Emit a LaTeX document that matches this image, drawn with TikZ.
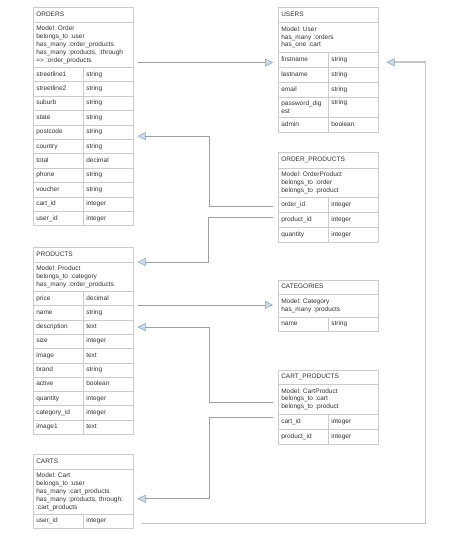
\documentclass[tikz,border=0pt]{standalone}
\usepackage{fontspec}
\usepackage{tikz}
\usetikzlibrary{arrows.meta}
\newfontfamily\tabfont{Liberation Sans}
\frenchspacing
\definecolor{cellgray}{HTML}{CCCCCC}
\definecolor{linegray}{HTML}{9E9E9E}
\definecolor{widegray}{HTML}{C6C6C6}
\definecolor{tipblue}{HTML}{C9DCEC}
\definecolor{tipedge}{HTML}{8FA3B8}
\definecolor{textgray}{HTML}{333333}
\tikzstyle{cell} = [draw=cellgray, line width=0.6pt, fill=white, anchor=north west, inner xsep=3pt, inner ysep=0pt, align=left, text=textgray, font={\tabfont\fontsize{6.5}{7.8}\selectfont}]
\tikzstyle{titlecell} = [cell, text width=94pt, minimum height=15pt, text height=4.7pt, text depth=1.6pt]
\tikzstyle{infocell} = [cell, text width=94pt]
\tikzstyle{fieldcell} = [cell, text width=44pt, minimum height=14.4pt, text height=4.7pt, text depth=1.6pt]
\tikzstyle{fk} = [draw=linegray, line width=0.7pt, -{Triangle[length=8pt,width=8pt,fill=tipblue,color=tipedge,line width=0.5pt]}]
\tikzstyle{fkwide} = [fk, draw=widegray, line width=1.6pt]

\begin{document}
\begin{tikzpicture}[x=1pt,y=-1pt]
\useasboundingbox (0,0) rectangle (459,553);

%table ORDERS
\node[titlecell] (orders) at (33,7) {ORDERS};
\node[infocell, minimum height=45pt] (orders-info) at (33,22) {Model: Order\\belongs\_to :user\\has\_many :order\_products\\has\_many :products, :through\\=> :order\_products};
\foreach \f/\t [count=\i from 0] in {streetline1/string, streetline2/string, suburb/string, state/string, postcode/string, country/string, total/decimal, phone/string, voucher/string, cart\_id/integer, user\_id/integer} {
  \node[fieldcell] (orders-f\i) at (33,{67+14.4*\i}) {\f};
  \node[fieldcell] (orders-t\i) at (83,{67+14.4*\i}) {\t};
}

%table USERS
\node[titlecell] (users) at (278,7) {USERS};
\node[infocell, minimum height=30pt] (users-info) at (278,22) {Model: User\\has\_many :orders\\has\_one :cart};
\node[fieldcell, minimum height=15pt] (users-f0) at (278,52) {firstname};
\node[fieldcell, minimum height=15pt] (users-t0) at (328,52) {string};
\node[fieldcell, minimum height=15pt] (users-f1) at (278,67) {lastname};
\node[fieldcell, minimum height=15pt] (users-t1) at (328,67) {string};
\node[fieldcell, minimum height=15pt] (users-f2) at (278,82) {email};
\node[fieldcell, minimum height=15pt] (users-t2) at (328,82) {string};
\node[cell, text width=44pt, minimum height=20pt] (users-f3) at (278,97) {password\_dig\\est};
\node[fieldcell, minimum height=20pt, text depth=9.4pt] (users-t3) at (328,97) {string};
\node[fieldcell, minimum height=15pt] (users-f4) at (278,117) {admin};
\node[fieldcell, minimum height=15pt] (users-t4) at (328,117) {boolean};

%table ORDER_PRODUCTS
\node[titlecell, minimum height=16pt] (op) at (278,152) {ORDER\_PRODUCTS};
\node[infocell, minimum height=29pt] (op-info) at (278,168) {Model: OrderProduct\\belongs\_to :order\\belongs\_to :product};
\foreach \f/\t [count=\i from 0] in {order\_id/integer, product\_id/integer, quantity/integer} {
  \node[fieldcell, minimum height=15pt] (op-f\i) at (278,{197+15*\i}) {\f};
  \node[fieldcell, minimum height=15pt] (op-t\i) at (328,{197+15*\i}) {\t};
}

%table PRODUCTS
\node[titlecell] (products) at (33,247) {PRODUCTS};
\node[infocell, minimum height=29pt] (products-info) at (33,262) {Model: Product\\belongs\_to :category\\has\_many :order\_products};
\foreach \f/\t [count=\i from 0] in {price/decimal, name/string, description/text, size/integer, image/text, brand/string, active/boolean, quantity/integer, category\_id/integer, image1/text} {
  \node[fieldcell, minimum height=14.3pt] (products-f\i) at (33,{291+14.3*\i}) {\f};
  \node[fieldcell, minimum height=14.3pt] (products-t\i) at (83,{291+14.3*\i}) {\t};
}

%table CATEGORIES
\node[titlecell, minimum height=14pt] (cat) at (278,280) {CATEGORIES};
\node[infocell, minimum height=23pt] (cat-info) at (278,294) {Model: Category\\has\_many :products};
\node[fieldcell, minimum height=14pt] (cat-f0) at (278,317) {name};
\node[fieldcell, minimum height=14pt] (cat-t0) at (328,317) {string};

%table CART_PRODUCTS
\node[titlecell, minimum height=14pt] (cp) at (278,370) {CART\_PRODUCTS};
\node[infocell, minimum height=30pt] (cp-info) at (278,384) {Model: CartProduct\\belongs\_to :cart\\belongs\_to :product};
\foreach \f/\t [count=\i from 0] in {cart\_id/integer, product\_id/integer} {
  \node[fieldcell, minimum height=15pt] (cp-f\i) at (278,{414+15*\i}) {\f};
  \node[fieldcell, minimum height=15pt] (cp-t\i) at (328,{414+15*\i}) {\t};
}

%table CARTS
\node[titlecell] (carts) at (33,454) {CARTS};
\node[infocell, minimum height=45pt] (carts-info) at (33,469) {Model: Cart\\belongs\_to :user\\has\_many :cart\_products\\has\_many :products, through:\\:cart\_products};
\node[fieldcell, minimum height=14pt] (carts-f0) at (33,514) {user\_id};
\node[fieldcell, minimum height=14pt] (carts-t0) at (83,514) {integer};

%connectors
\draw[fk, shorten >=5pt] ([xshift=4pt,yshift=5pt]orders-info.south east) -- ([yshift=5pt]orders-info.south east -| users-f0.west);
\draw[fk] ([xshift=-5pt,yshift=-2pt]op-f0.west) -- ++(-64,0) |- ([xshift=4pt,yshift=-4pt]orders-t4.east);
\draw[fk] ([xshift=-5pt,yshift=2.5pt]op-f1.west) -- ++(-65,0) |- ([xshift=4pt]products-info.north east);
\draw[fk, shorten >=5pt] ([xshift=4pt,yshift=1pt]products-t0.south east) -- ([yshift=1pt]products-t0.south east -| cat-info.west);
\draw[fk] ([xshift=-5pt,yshift=-3pt]cp-info.west) -- ++(-64,0) |- ([xshift=4pt]products-t2.east);
\draw[fk] ([xshift=-5pt,yshift=-3pt]cp-info.south west) -- ++(-64,0) |- ([xshift=4pt,yshift=-7pt]carts-info.east);
\draw[fkwide] ([xshift=8pt,yshift=-2pt]carts-t0.east) -- ++(284,0) |- ([xshift=8pt,yshift=-2.5pt]users-t0.east);

\end{tikzpicture}
\end{document}
